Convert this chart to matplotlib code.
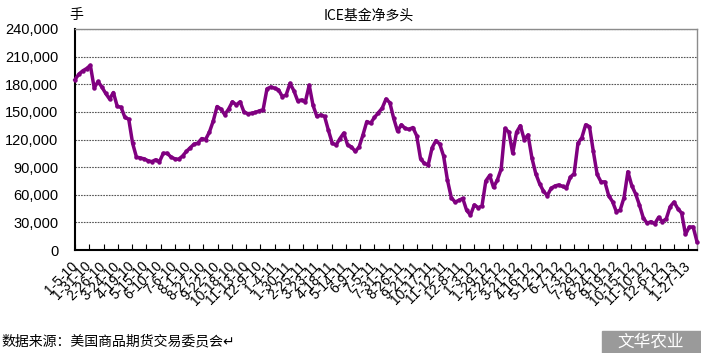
import numpy as np
import matplotlib
matplotlib.use('Agg')
import matplotlib.pyplot as plt
import matplotlib.dates as mdates
import pandas as pd
from datetime import datetime

plt.rcParams['font.family'] = ['Liberation Sans', 'Noto Sans CJK SC', 'DejaVu Sans']
cjk = ['Noto Sans CJK SC', 'DejaVu Sans']

# ICE fund net long, weekly from 2010-01-05 (contracts)
first_week = '2010-01-05'
net_long = [
    185000, 191000, 194500, 197000, 200500, 176000, 183000, 177000, 170000, 164000,
    171000, 156000, 155000, 144000, 142000, 116000, 101000, 100000, 99000, 97000,
    96000, 98000, 96000, 105000, 105000, 101000, 99000, 98600, 102000, 107000,
    111000, 115000, 116000, 121000, 120000, 128000, 140000, 155800, 153000, 147000,
    153000, 161000, 157600, 161000, 150000, 148000, 148500, 149500, 151000, 152500,
    175000, 177000, 175700, 174000, 166600, 168500, 181000, 173000, 162000, 163000,
    161000, 179000, 157000, 145000, 146700, 145000, 130000, 116000, 114000, 121000,
    127000, 114000, 112000, 107000, 112000, 125000, 139500, 137700, 144000, 149000,
    154000, 164000, 160000, 143000, 129000, 136000, 132000, 131000, 133000, 124000,
    99000, 94000, 92400, 111000, 118800, 115000, 102000, 76000, 57000, 52000,
    54000, 56000, 43000, 38000, 49000, 46000, 47800, 75000, 81000, 68000,
    76000, 88000, 132000, 128000, 105000, 128000, 135000, 120000, 125000, 100000,
    83000, 72000, 64000, 59000, 67000, 69500, 70700, 69000, 67500, 79000,
    83000, 116000, 122000, 136000, 134000, 107000, 82000, 74000, 74000, 59000,
    52500, 41600, 43500, 57000, 85000, 70000, 61000, 49000, 35000, 29000,
    30800, 28500, 35500, 30800, 34000, 47000, 52000, 45000, 40000, 17000,
    25000, 25000, 9000,
]

tick_labels = [
    '1-5-10', '1-31-10', '2-26-10', '3-24-10', '4-19-10', '5-15-10', '6-10-10',
    '7-6-10', '8-1-10', '8-27-10', '9-22-10', '10-18-10', '11-13-10', '12-9-10',
    '1-4-11', '1-30-11', '2-25-11', '3-23-11', '4-18-11', '5-14-11', '6-9-11',
    '7-5-11', '7-31-11', '8-26-11', '9-21-11', '10-17-11', '11-12-11', '12-8-11',
    '1-3-12', '1-29-12', '2-24-12', '3-21-12', '4-16-12', '5-12-12', '6-7-12',
    '7-3-12', '7-29-12', '8-24-12', '9-19-12', '10-15-12', '11-10-12', '12-6-12',
    '1-1-13', '1-27-13',
]
y_ticks = [0, 30000, 60000, 90000, 120000, 150000, 180000, 210000, 240000]

dates = pd.date_range(first_week, periods=len(net_long), freq='7D')
tick_pos = [datetime.strptime(t, '%m-%d-%y') for t in tick_labels]

fig = plt.figure(figsize=(7.01, 3.53), dpi=100)
ax = fig.add_axes([75 / 701, 1 - 250 / 353, 622 / 701, 221 / 353])

ax.plot(dates, net_long, color='#800080', lw=2.5, marker='o', ms=2.2,
        solid_joinstyle='round', clip_on=False, zorder=3)

ax.set_xlim(dates[0], dates[-1])
ax.set_ylim(0, 240000)
ax.set_yticks(y_ticks)
ax.set_yticklabels(['{:,}'.format(v) for v in y_ticks], fontsize=10.5)
ax.tick_params(axis='y', length=0, pad=12)
ax.grid(axis='y', linestyle=(0, (1.5, 1)), color='#555555', lw=0.8)

ax.set_xticks(tick_pos)
ax.set_xticklabels(tick_labels, rotation=45, ha='right', va='center',
                   rotation_mode='anchor', fontsize=10)
ax.tick_params(axis='x', direction='in', length=4, width=0.8, pad=10)

for side in ['top', 'right']:
    ax.spines[side].set_color('#8c8c8c')
    ax.spines[side].set_linewidth(1)
ax.spines['left'].set_linewidth(1.5)
ax.spines['bottom'].set_linewidth(1.5)

fig.text(369 / 701, 1 - 16 / 353, 'ICE基金净多头', ha='center', va='center',
         fontsize=10, family=cjk)
fig.text(76 / 701, 1 - 15 / 353, '手', ha='center', va='center',
         fontsize=10, family=cjk)
fig.text(1 / 701, 1 - 341 / 353, '数据来源：美国商品期货交易委员会↵', ha='left',
         va='center', fontsize=10, family=cjk)

# watermark box
fig.patches.append(plt.Rectangle((602 / 701, 0), 99 / 701, 22 / 353,
                                 transform=fig.transFigure, color='#9a9a9a'))
fig.text(651 / 701, 11 / 353, '文华农业', ha='center', va='center',
         fontsize=12, color='white', family=cjk)

fig.savefig('out.png', dpi=100)
